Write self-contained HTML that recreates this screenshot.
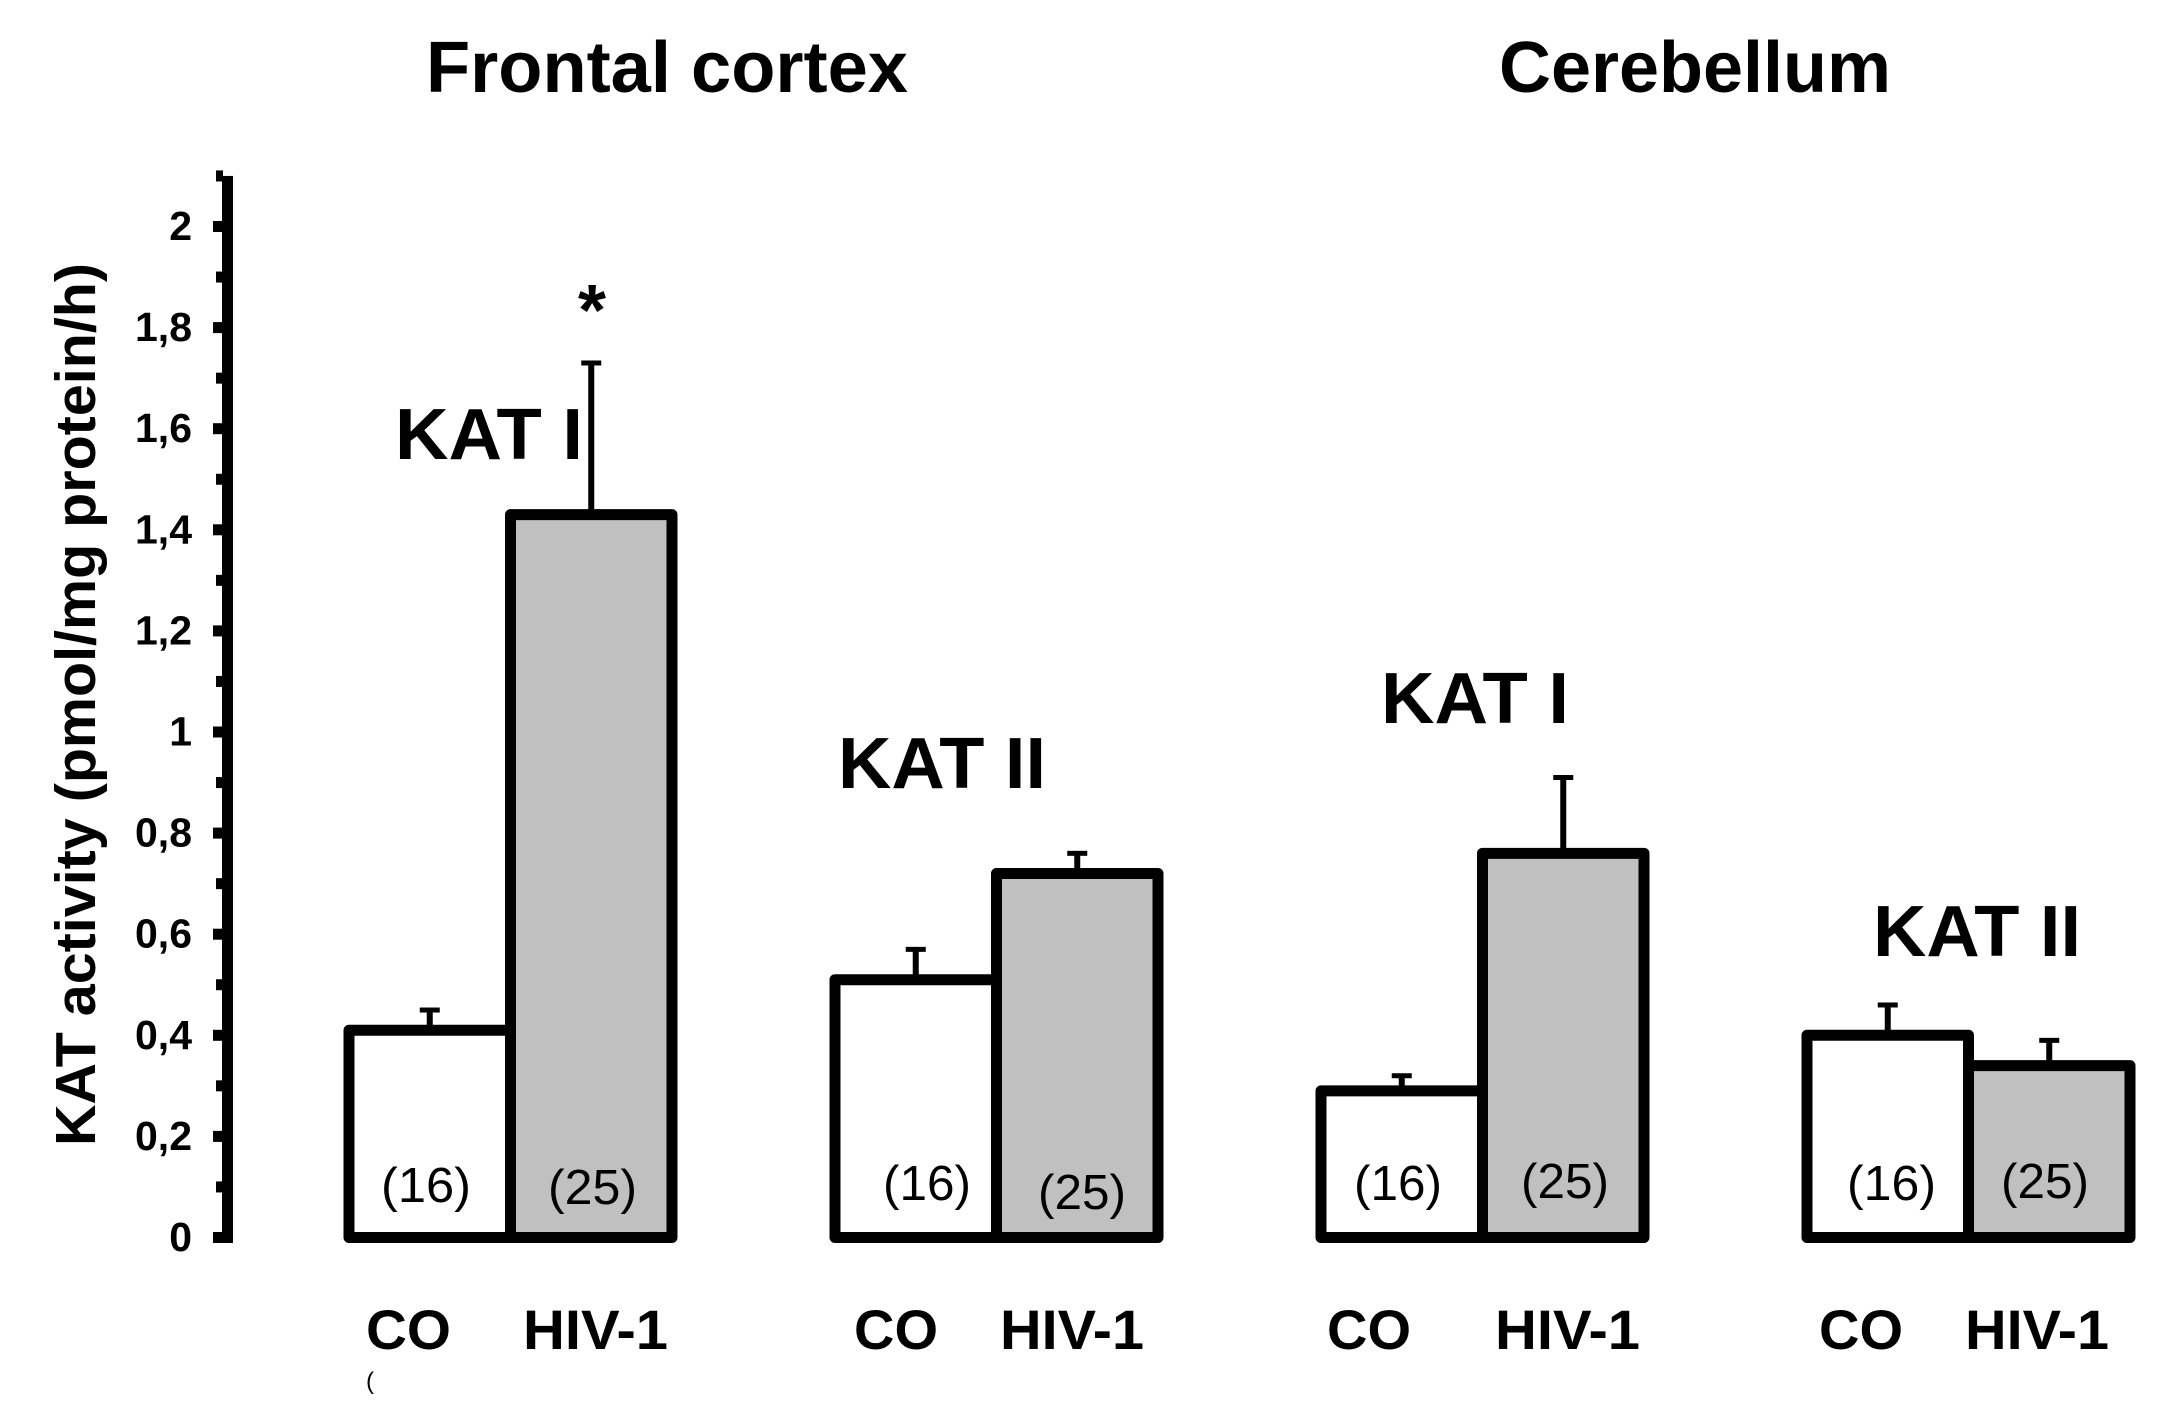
<!DOCTYPE html>
<html lang="en">
<head>
<meta charset="utf-8">
<title>KAT activity in frontal cortex and cerebellum</title>
<style>
html,body{margin:0;padding:0;background:#fff;}
svg{display:block;}
text{font-family:"Liberation Sans",sans-serif;fill:#000;}
.b{font-weight:bold;}
</style>
</head>
<body>
<svg id="chart" width="2178" height="1401" viewBox="0 0 2178 1401" xmlns="http://www.w3.org/2000/svg">
  <rect x="0" y="0" width="2178" height="1401" fill="#fff"/>

  <text class="b" x="426" y="92" font-size="72" textLength="482" lengthAdjust="spacingAndGlyphs">Frontal cortex</text>
  <text class="b" x="1499" y="92" font-size="72" textLength="392" lengthAdjust="spacingAndGlyphs">Cerebellum</text>

  <text class="b" transform="translate(95,1146) rotate(-90)" x="0" y="0" font-size="57" textLength="883" lengthAdjust="spacingAndGlyphs">KAT activity (pmol/mg protein/h)</text>

  <g id="axis"></g>
  <g id="bars"></g>

  <text class="b" x="592" y="335" font-size="72" text-anchor="middle">*</text>

  <text class="b" x="395" y="459" font-size="72" textLength="188" lengthAdjust="spacingAndGlyphs">KAT I</text>
  <text class="b" x="838" y="788" font-size="72" textLength="208" lengthAdjust="spacingAndGlyphs">KAT II</text>
  <text class="b" x="1381" y="723" font-size="72" textLength="188" lengthAdjust="spacingAndGlyphs">KAT I</text>
  <text class="b" x="1873" y="956" font-size="72" textLength="208" lengthAdjust="spacingAndGlyphs">KAT II</text>

  <text x="381" y="1202" font-size="49" textLength="90" lengthAdjust="spacingAndGlyphs">(16)</text>
  <text x="548" y="1204" font-size="49" textLength="89" lengthAdjust="spacingAndGlyphs">(25)</text>
  <text x="883" y="1200" font-size="49" textLength="88" lengthAdjust="spacingAndGlyphs">(16)</text>
  <text x="1038" y="1209" font-size="49" textLength="88" lengthAdjust="spacingAndGlyphs">(25)</text>
  <text x="1354" y="1200" font-size="49" textLength="88" lengthAdjust="spacingAndGlyphs">(16)</text>
  <text x="1521" y="1198" font-size="49" textLength="88" lengthAdjust="spacingAndGlyphs">(25)</text>
  <text x="1847" y="1200" font-size="49" textLength="89" lengthAdjust="spacingAndGlyphs">(16)</text>
  <text x="2001" y="1198" font-size="49" textLength="88" lengthAdjust="spacingAndGlyphs">(25)</text>

  <text class="b" x="366" y="1349" font-size="56" textLength="85" lengthAdjust="spacingAndGlyphs">CO</text>
  <text class="b" x="523" y="1349" font-size="56" textLength="145" lengthAdjust="spacingAndGlyphs">HIV-1</text>
  <text class="b" x="854" y="1349" font-size="56" textLength="84" lengthAdjust="spacingAndGlyphs">CO</text>
  <text class="b" x="1000" y="1349" font-size="56" textLength="144" lengthAdjust="spacingAndGlyphs">HIV-1</text>
  <text class="b" x="1327" y="1349" font-size="56" textLength="84" lengthAdjust="spacingAndGlyphs">CO</text>
  <text class="b" x="1495" y="1349" font-size="56" textLength="145" lengthAdjust="spacingAndGlyphs">HIV-1</text>
  <text class="b" x="1819" y="1349" font-size="56" textLength="84" lengthAdjust="spacingAndGlyphs">CO</text>
  <text class="b" x="1965" y="1349" font-size="56" textLength="144" lengthAdjust="spacingAndGlyphs">HIV-1</text>

  <text x="366" y="1389" font-size="24">(</text>
</svg>
<script>
const groups = ['Frontal KAT I', 'Frontal KAT II', 'Cerebellum KAT I', 'Cerebellum KAT II'];
const coValues = [0.41, 0.51, 0.29, 0.40];
const hivValues = [1.43, 0.72, 0.76, 0.34];
const coErrorTops = [0.45, 0.57, 0.32, 0.46];
const hivErrorTops = [1.73, 0.76, 0.91, 0.39];
const majorTicks = [0, 0.2, 0.4, 0.6, 0.8, 1, 1.2, 1.4, 1.6, 1.8, 2];
const majorTickLabels = ['0', '0,2', '0,4', '0,6', '0,8', '1', '1,2', '1,4', '1,6', '1,8', '2'];
const minorTicks = [0.1, 0.3, 0.5, 0.7, 0.9, 1.1, 1.3, 1.5, 1.7, 1.9, 2.1];

const NS = 'http://www.w3.org/2000/svg';
const yScale = v => 1237.5 - v * 505.5;
const xScale = (group, slot) => 349 + group * 486 + slot * 161.5;
const axisGroup = document.getElementById('axis');
const barsGroup = document.getElementById('bars');

function make(tag, parent, props) {
  const el = document.createElementNS(NS, tag);
  for (const k in props) el.setAttribute(k, props[k]);
  parent.appendChild(el);
  return el;
}

const axisLine = make('rect', axisGroup, { x: 222, y: yScale(2.1), width: 11, height: yScale(0) + 5.5 - yScale(2.1), fill: '#000' });



majorTicks.forEach((v, i) => {
  const tick = make('rect', axisGroup, { x: 213, y: yScale(v) - 5.5, width: 10, height: 11, fill: '#000' });
  
  
  const label = make('text', axisGroup, { x: 192, y: yScale(v) + 13.5, 'text-anchor': 'end', 'font-size': 41, 'font-weight': 'bold' });
  label.textContent = majorTickLabels[i];
  
  
});

minorTicks.forEach(v => {
  const tick = make('rect', axisGroup, { x: 216, y: yScale(v) - 5.5, width: 7, height: 11, fill: '#000' });
  
  
});

function drawError(group, slot, base, top) {
  const cx = xScale(group, slot + 0.5);
  const stem = make('rect', barsGroup, { x: cx - 3, y: yScale(top), width: 6, height: yScale(base) - yScale(top), fill: '#000' });
  
  
  const cap = make('rect', barsGroup, { x: cx - 10, y: yScale(top) - 2.5, width: 20, height: 5, fill: '#000' });
  
  
}

function drawBar(group, slot, value, fill) {
  const bar = make('rect', barsGroup, {
    x: xScale(group, slot),
    y: yScale(value),
    width: 161.5,
    height: yScale(0) - yScale(value),
    fill: fill,
    stroke: '#000',
    'stroke-width': 11,
    'stroke-linejoin': 'round'
  });
  
  
}

groups.forEach((g, i) => {
  drawError(i, 0, coValues[i], coErrorTops[i]);
  drawError(i, 1, hivValues[i], hivErrorTops[i]);
  if (coValues[i] >= hivValues[i]) {
    drawBar(i, 1, hivValues[i], '#c0c0c0');
    drawBar(i, 0, coValues[i], '#ffffff');
  } else {
    drawBar(i, 0, coValues[i], '#ffffff');
    drawBar(i, 1, hivValues[i], '#c0c0c0');
  }
});
</script>
</body>
</html>
